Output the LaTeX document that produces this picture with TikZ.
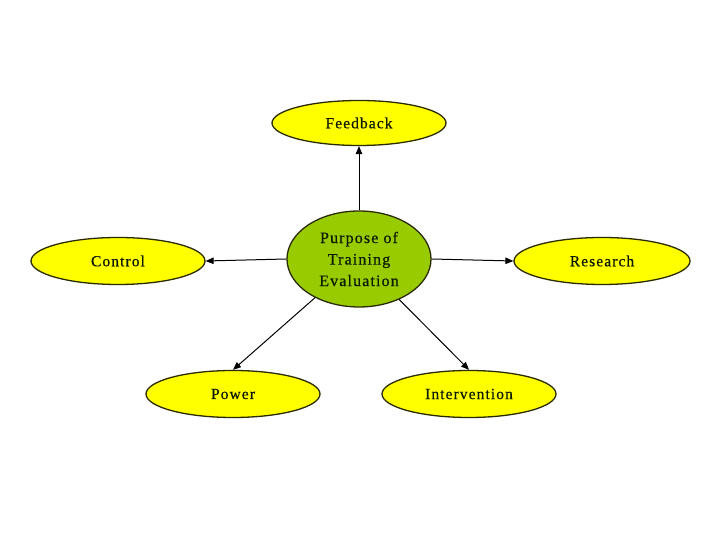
\documentclass[tikz,border=0pt]{standalone}
\usepackage{fontspec}
\setmainfont{Liberation Serif}[LetterSpace=7,FakeBold=0.6]
\usetikzlibrary{shapes.geometric,arrows.meta}
\definecolor{yel}{HTML}{FFFF00}
\definecolor{grn}{HTML}{99CC00}
\definecolor{edge}{HTML}{2B2B00}
\definecolor{txt}{HTML}{0D1A00}
\begin{document}
\begin{tikzpicture}[x=1pt,y=1pt,
  leaf/.style={ellipse,draw=edge,line width=1.3pt,fill=yel,inner sep=0pt,
    minimum width=174pt,minimum height=47pt,text=txt,
    font=\fontsize{15.5}{18}\selectfont},
  hub/.style={ellipse,draw=edge,line width=1.3pt,fill=grn,inner sep=0pt,
    minimum width=144pt,minimum height=96pt,text=txt,align=center,
    font=\fontsize{16}{21.5}\selectfont},
  link/.style={draw=black,line width=1pt,-{Triangle[length=8pt,width=6.5pt]}}]
\useasboundingbox (0,0) rectangle (720,540);
\fill[white] (0,0) rectangle (720,540);
\node[hub] (c) at (359,281) {Purpose of\\Training\\Evaluation};
\node[leaf,minimum height=45pt] (fb) at (359,417) {Feedback};
\node[leaf] (ctl) at (118,279) {Control};
\node[leaf,minimum width=176pt] (res) at (602,279) {Research};
\node[leaf] (pow) at (233,146) {Power};
\node[leaf] (int) at (469,146) {Intervention};
\draw[link] (c) -- (fb);
\draw[link] (c.west) -- (ctl.east);
\draw[link] (c.east) -- (res.west);
\draw[link] (c) -- (pow.north);
\draw[link] (c) -- (int.north);
\end{tikzpicture}
\end{document}
